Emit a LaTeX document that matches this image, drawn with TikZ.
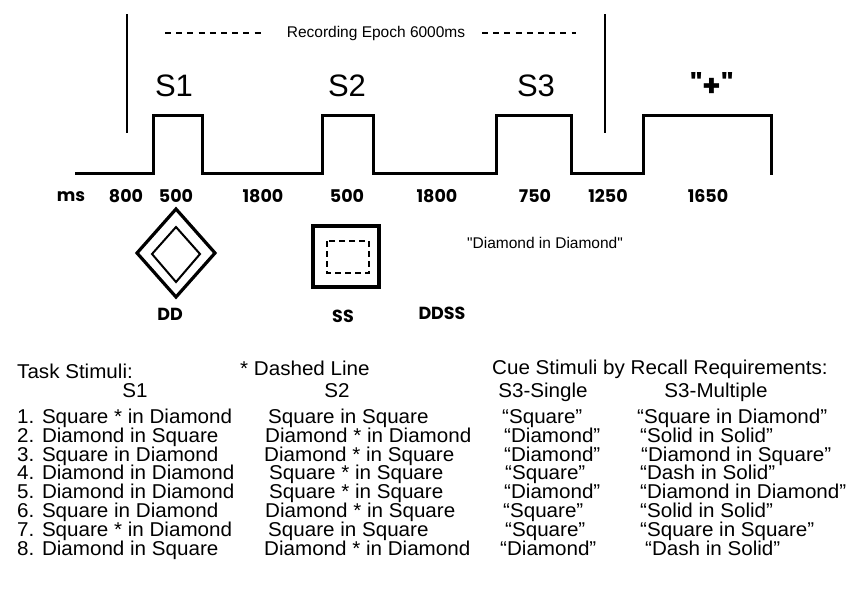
\documentclass[tikz,border=0pt]{standalone}
\usepackage{fontspec}
\setmainfont{Liberation Sans}
\newfontfamily\plainfont{Liberation Sans}
\newfontfamily\tabfont[FakeStretch=1.03]{Liberation Sans}
\newfontfamily\geo{Poppins}
\begin{document}
\begin{tikzpicture}[x=1pt,y=-1pt,
  wave/.style={line width=3pt, line join=miter},
  bar/.style={line width=2.6pt},
  dashline/.style={line width=2pt, dash pattern=on 6pt off 5.2pt},
  big/.style={font=\plainfont\fontsize{31}{31}\selectfont, inner sep=0pt},
  msl/.style={font=\geo\bfseries\fontsize{17.5}{17.5}\selectfont, inner sep=0pt},
  lbl/.style={font=\plainfont\fontsize{15.5}{16}\selectfont, inner sep=0pt},
  tab/.style={font=\tabfont\fontsize{20}{20}\selectfont, inner sep=0pt, anchor=base west},
  tabc/.style={font=\tabfont\fontsize{20}{20}\selectfont, inner sep=0pt, anchor=base}]
\useasboundingbox (0,0) rectangle (867,595);
% waveform
\draw[wave] (75,173) -- (153,173) -- (153,115) -- (202,115) -- (202,173)
  -- (322,173) -- (322,115) -- (373,115) -- (373,173)
  -- (496,173) -- (496,115) -- (571,115) -- (571,173)
  -- (643,173) -- (643,115) -- (771,115) -- (771,175);
% epoch bars
\draw[bar] (127,14) -- (127,133);
\draw[bar] (605,14) -- (605,133);
% recording epoch
\node[lbl] (epoch) at (376,33) {Recording Epoch 6000ms};
\coordinate (dl1) at (165,33);
\coordinate (dl2) at (265,33);
\coordinate (dr1) at (482,33);
\coordinate (dr2) at (576,33);
\draw[dashline] (dl1) -- (dl2);
\draw[dashline] (dr1) -- (dr2);
% stimulus labels
\node[big] (s1) at (174,86) {S1};
\node[big] (s2) at (347,86) {S2};
\node[big] (s3) at (536,86) {S3};
\node[font=\geo\bfseries\fontsize{30}{30}\selectfont, inner sep=0pt] (plus) at (712,84) {"+"};
% ms row
\node[msl] (ms) at (71,197) {ms};
\node[msl] (t800) at (126,196) {800};
\node[msl] (t500a) at (176,196) {500};
\node[msl] (t1800a) at (263,196) {1800};
\node[msl] (t500b) at (347,196) {500};
\node[msl] (t1800b) at (437,196) {1800};
\node[msl] (t750) at (535,196) {750};
\node[msl] (t1250) at (608,196) {1250};
\node[msl] (t1650) at (708,196) {1650};
% DD figure
\draw[line width=3.2pt, line join=miter] (176,209) -- (215,253) -- (176,297) -- (137,253) -- cycle;
\draw[line width=2pt, line join=miter] (176,227) -- (200,254) -- (176,282) -- (152,254) -- cycle;
% SS figure
\draw[line width=3.5pt] (313,226) rectangle (379,287);
\draw[line width=2pt, dash pattern=on 6pt off 4pt] (327,241) rectangle (369,273);
\node[lbl] (did) at (545,243) {"Diamond in Diamond"};
\node[msl] (dd) at (170,314) {DD};
\node[msl] (ss) at (343,316) {SS};
\node[msl] (ddss) at (442,313) {DDSS};
% table headers
\node[tab] (h1) at (17,378) {Task Stimuli:};
\node[tab] (h2) at (240,375) {* Dashed Line};
\node[tab] (h3) at (492,374) {Cue Stimuli by Recall Requirements:};
\node[tabc] (c1) at (135,397) {S1};
\node[tabc] (c2) at (337,397) {S2};
\node[tabc] (c3) at (543,397) {S3-Single};
\node[tabc] (c4) at (716,397) {S3-Multiple};
% rows
\node[tab] (r1a) at (17,423.5) {1. Square * in Diamond};
\node[tab] (r2a) at (17,442) {2. Diamond in Square};
\node[tab] (r3a) at (17,461) {3. Square in Diamond};
\node[tab] (r4a) at (17,479.5) {4. Diamond in Diamond};
\node[tab] (r5a) at (17,498.5) {5. Diamond in Diamond};
\node[tab] (r6a) at (17,517) {6. Square in Diamond};
\node[tab] (r7a) at (17,536) {7. Square * in Diamond};
\node[tab] (r8a) at (17,555) {8. Diamond in Square};
\node[tab] (r1b) at (268,423.5) {Square in Square};
\node[tab] (r2b) at (265,442) {Diamond * in Diamond};
\node[tab] (r3b) at (264,461) {Diamond * in Square};
\node[tab] (r4b) at (269,479.5) {Square * in Square};
\node[tab] (r5b) at (269,498.5) {Square * in Square};
\node[tab] (r6b) at (265,517) {Diamond * in Square};
\node[tab] (r7b) at (268,536) {Square in Square};
\node[tab] (r8b) at (264,555) {Diamond * in Diamond};
\node[tab] (r1c) at (502,423.5) {“Square”};
\node[tab] (r2c) at (504,442) {“Diamond”};
\node[tab] (r3c) at (504,461) {“Diamond”};
\node[tab] (r4c) at (505,479.5) {“Square”};
\node[tab] (r5c) at (504,498.5) {“Diamond”};
\node[tab] (r6c) at (503,517) {“Square”};
\node[tab] (r7c) at (505,536) {“Square”};
\node[tab] (r8c) at (500,555) {“Diamond”};
\node[tab] (r1d) at (637,423.5) {“Square in Diamond”};
\node[tab] (r2d) at (640,442) {“Solid in Solid”};
\node[tab] (r3d) at (641,461) {“Diamond in Square”};
\node[tab] (r4d) at (640,479.5) {“Dash in Solid”};
\node[tab] (r5d) at (640,498.5) {“Diamond in Diamond”};
\node[tab] (r6d) at (640,517) {“Solid in Solid”};
\node[tab] (r7d) at (640,536) {“Square in Square”};
\node[tab] (r8d) at (645,555) {“Dash in Solid”};
\end{tikzpicture}
\end{document}
